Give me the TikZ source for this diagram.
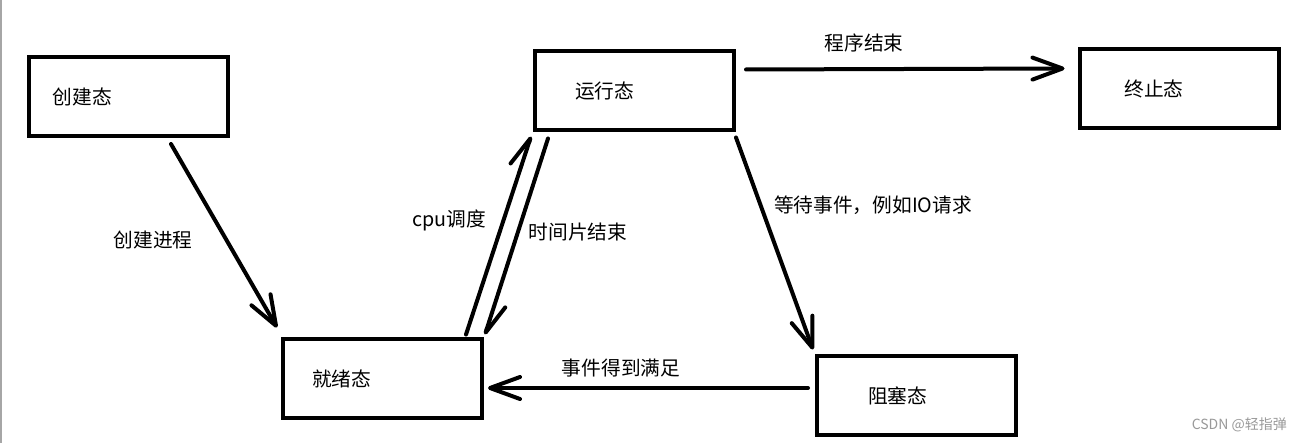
\documentclass[tikz,border=0pt]{standalone}
\usepackage{fontspec}
\setmainfont{Noto Sans CJK SC}
\usetikzlibrary{arrows.meta,calc}

\tikzset{
  state/.style={draw=black, line width=4pt, minimum width=199pt, minimum height=79pt,
    inner sep=0pt, text width=199pt, align=left, font=\fontsize{19.7pt}{22pt}\selectfont},
  flow/.style={line width=4pt, line cap=round, line join=round,
    -{Straight Barb[length=30pt, width=22pt, line cap=round, line join=round]}},
  halfflow/.style={line width=4pt, line cap=round, line join=round,
    -{Straight Barb[harpoon, length=30pt, width=22pt, line cap=round, line join=round]}},
  tag/.style={inner sep=0pt, font=\fontsize{19.7pt}{22pt}\selectfont},
}

\begin{document}
\begin{tikzpicture}[x=1pt, y=-1pt]
  \useasboundingbox (0,0) rectangle (1302,443);
  \fill[white] (0,0) rectangle (1302,443);
  % thin frame line on the left edge
  \draw[gray!70, line width=1.5pt] (0.75,0) -- (0.75,443);

  % process states
  \node[state] (cj) at (128.5,96.5) {\hspace*{24pt}创建态};
  \node[state] (yx) at (634.5,91)   {\hspace*{40pt}运行态};
  \node[state] (zz) at (1179,89)    {\hspace*{45pt}终止态};
  \node[state] (jx) at (382.5,379)  {\hspace*{29pt}就绪态};
  \node[state] (zs) at (916.5,396)  {\hspace*{51pt}阻塞态};

  % transitions
  \draw[flow] ($(cj.south)+(42.5,6)$) -- ($(jx.north west)+(-4,-10)$);
  \draw[halfflow] ($(jx.north east)+(-18,-3)$) -- ($(yx.south west)+(-2,4)$);
  \draw[halfflow] ($(yx.south west)+(15,6)$) -- ($(jx.north east)+(1,-3)$);
  \draw[flow] ($(yx.north east)+(10,20)$) -- ($(zz.north west)+(-13,21)$);
  \draw[flow] ($(yx.south east)+(0,5)$) -- ($(zs.north west)+(-2,-5)$);
  \draw[flow] ($(zs.west)+(-7,-8)$) -- ($(jx.east)+(4,9)$);

  % transition labels
  \node[tag] (l1) at (153,240) {创建进程};
  \node[tag] (l2) at (449,220) {cpu调度};
  \node[tag] (l3) at (578,232) {时间片结束};
  \node[tag] (l4) at (864,43)  {程序结束};
  \node[tag] (l5) at (873,205) {等待事件，例如IO请求};
  \node[tag] (l6) at (621,368) {事件得到满足};

  % signature
  \node[inner sep=0pt, anchor=east, text=gray!80, font=\fontsize{14pt}{16pt}\selectfont]
    (sig) at (1287,425) {CSDN @轻指弹};
\end{tikzpicture}
\end{document}
